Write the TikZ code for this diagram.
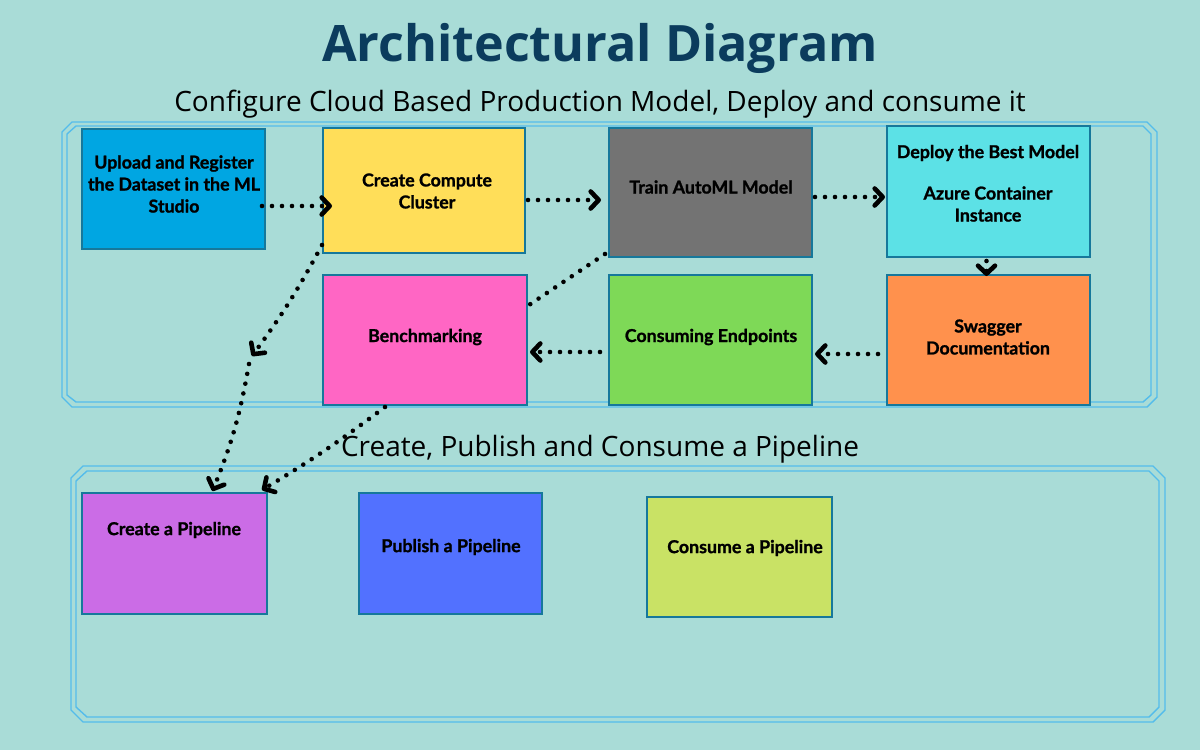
\documentclass[tikz,border=0pt]{standalone}
\usepackage{fontspec}
\setmainfont{Open Sans}
\newfontfamily\boxfont[BoldFeatures={FakeBold=1.2}]{Lato}
\usetikzlibrary{arrows.meta}
\definecolor{bgc}{RGB}{169,220,215}
\definecolor{framec}{RGB}{84,188,235}
\definecolor{titlec}{RGB}{11,60,93}
\definecolor{edgec}{RGB}{22,120,155}
\definecolor{c1}{RGB}{0,166,226}
\definecolor{c2}{RGB}{255,222,89}
\definecolor{c3}{RGB}{115,115,115}
\definecolor{c4}{RGB}{92,225,230}
\definecolor{c5}{RGB}{255,145,77}
\definecolor{c6}{RGB}{126,217,87}
\definecolor{c7}{RGB}{255,102,196}
\definecolor{c8}{RGB}{203,108,230}
\definecolor{c9}{RGB}{82,113,255}
\definecolor{c10}{RGB}{201,226,101}
\tikzset{
  box/.style={draw=edgec, line width=0.8pt, inner sep=0pt, outer sep=0pt, rectangle},
  boxtext/.style={font=\boxfont\bfseries\fontsize{8.9}{11}\selectfont, align=center, text=black, inner sep=0pt},
  frameline/.style={draw=framec, line width=0.7pt},
  arr/.style={line width=2.3pt, line cap=round, dash pattern=on 0pt off 5pt, -{Straight Barb[length=4pt,width=8.5pt,round]}},
  dotline/.style={line width=2.3pt, line cap=round, dash pattern=on 0pt off 5pt},
}
\begin{document}
\begin{tikzpicture}[x=0.5pt,y=-0.5pt]
\fill[bgc] (0,0) rectangle (1200,750);
\useasboundingbox (0,0) rectangle (1200,750);
% titles
\node[font=\bfseries\fontsize{25.1}{29}\selectfont, text=titlec] (title) at (600,48) {Architectural Diagram};
\node[font=\fontsize{14}{17}\selectfont, text=black] (sub1) at (600,104) {Configure Cloud Based Production Model, Deploy and consume it};
% frames
\draw[frameline] (72,122) -- (1147,122) -- (1157,132) -- (1157,397) -- (1147,407) -- (72,407) -- (62,397) -- (62,132) -- cycle;
\draw[frameline] (76,126) -- (1143,126) -- (1151,134) -- (1151,395) -- (1143,402) -- (76,402) -- (67,395) -- (67,134) -- cycle;
\draw[frameline] (83,466) -- (1153,466) -- (1165,478) -- (1165,710) -- (1153,722) -- (83,722) -- (71,710) -- (71,478) -- cycle;
\draw[frameline] (87,471) -- (1149,471) -- (1159,481) -- (1159,707) -- (1149,717) -- (87,717) -- (76,707) -- (76,481) -- cycle;
\node[font=\fontsize{14}{17}\selectfont, text=black] (sub2) at (600,449) {Create, Publish and Consume a Pipeline};
% boxes
\node[box, fill=c1, minimum width=91.5pt, minimum height=60pt] (b1) at (173.5,189) {};
\node[box, fill=c2, minimum width=101pt, minimum height=62.5pt] (b2) at (424,190.5) {};
\node[box, fill=c3, minimum width=101.5pt, minimum height=64.5pt] (b3) at (710.5,192.5) {};
\node[box, fill=c4, minimum width=101.5pt, minimum height=65.5pt] (b4) at (988.5,191.5) {};
\node[box, fill=c5, minimum width=101.5pt, minimum height=65pt] (b5) at (988.5,340) {};
\node[box, fill=c6, minimum width=101.5pt, minimum height=65pt] (b6) at (710.5,340) {};
\node[box, fill=c7, minimum width=102pt, minimum height=65pt] (b7) at (425,340) {};
\node[box, fill=c8, minimum width=92.5pt, minimum height=60.5pt] (b8) at (174.5,553.5) {};
\node[box, fill=c9, minimum width=91.5pt, minimum height=60.5pt] (b9) at (450.5,553.5) {};
\node[box, fill=c10, minimum width=92.5pt, minimum height=60pt] (b10) at (739.5,557) {};
% box texts
\node[boxtext] (t1) at (174,184) {Upload and Register\\the Dataset in the ML\\Studio};
\node[boxtext] (t2) at (427,191) {Create Compute\\Cluster};
\node[boxtext] (t3) at (711,187) {Train AutoML Model};
\node[boxtext] (t4a) at (988,153) {Deploy the Best Model};
\node[boxtext] (t4b) at (988,204) {Azure Container\\Instance};
\node[boxtext] (t5) at (988,337) {Swagger\\Documentation};
\node[boxtext] (t6) at (711,337) {Consuming Endpoints};
\node[boxtext] (t7) at (425,337) {Benchmarking};
\node[boxtext] (t8) at (174,530) {Create a Pipeline};
\node[boxtext] (t9) at (451,547) {Publish a Pipeline};
\node[boxtext] (t10) at (745,548) {Consume a Pipeline};
% connectors
\draw[arr] ([shift={(-3,17)}]b1.east) -- ([shift={(9,15.5)}]b2.west);
\draw[arr] ([shift={(3,9.5)}]b2.east) -- ([shift={(-8,7.5)}]b3.west);
\draw[arr] ([shift={(3,4.5)}]b3.east) -- ([shift={(-2,5.5)}]b4.west);
\draw[arr] ([shift={(-2,4)}]b4.south) -- ([shift={(-2,1)}]b5.north);
\draw[arr] ([shift={(-9,14)}]b5.west) -- ([shift={(3,14)}]b6.east);
\draw[arr] ([shift={(-9,12)}]b6.west) -- ([shift={(3,12)}]b7.east);
\draw[dotline] ([shift={(-4,-3)}]b3.south west) -- ([shift={(2,30)}]b7.north east);
\coordinate (m1) at (252,356);
\draw[arr] ([shift={(-1,-8)}]b2.south west) to[bend left=4] (m1);
\draw[arr] ([shift={(-3,8)}]m1) to[bend left=6] ([shift={(38,-2)}]b8.north);
\draw[arr] ([shift={(-40,2)}]b7.south) to[bend left=3] ([shift={(-5,-3)}]b8.north east);
\end{tikzpicture}
\end{document}
